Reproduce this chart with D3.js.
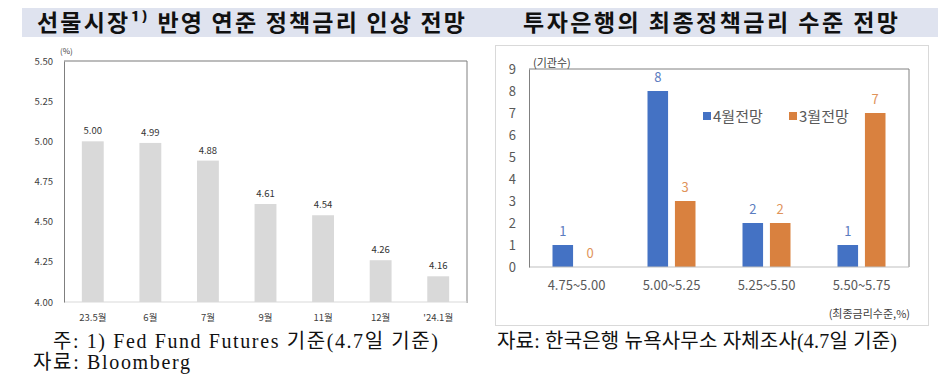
<!DOCTYPE html>
<html><head><meta charset="utf-8">
<script src="https://cdn.jsdelivr.net/npm/d3@7"></script>
<style>
body{margin:0;background:#fff;}
svg{display:block;}
</style></head>
<body>
<svg id="c" width="950" height="389"></svg>
<script>
// ---- data ----
const leftTitle = "선물시장¹⁾ 반영 연준 정책금리 인상 전망";
const rightTitle = "투자은행의 최종정책금리 수준 전망";
const leftCats = ["23.5월","6월","7월","9월","11월","12월","'24.1월"];
const leftVals = [5.00,4.99,4.88,4.61,4.54,4.26,4.16];
const leftTicks = [4.00,4.25,4.50,4.75,5.00,5.25,5.50];
const rightCats = ["4.75~5.00","5.00~5.25","5.25~5.50","5.50~5.75"];
const seriesNames = ["4월전망","3월전망"];
const aprVals = [1,8,2,1];
const marVals = [0,3,2,7];
const rightTicks = [0,1,2,3,4,5,6,7,8,9];
const note1 = "주: 1) Fed Fund Futures 기준(4.7일 기준)";
const note2 = "자료: Bloomberg";
const note3 = "자료: 한국은행 뉴욕사무소 자체조사(4.7일 기준)";

const svg = d3.select("#c");
const sans = "'Malgun Gothic','Noto Sans CJK KR','Noto Sans',sans-serif";
const serif = "'Liberation Serif','Noto Sans CJK KR',serif";
const blue = "#4472C4", orange = "#D9813F";

// title band
svg.append("rect").attr("x",22).attr("y",8).attr("width",916).attr("height",29).attr("fill","#dfe3ef");
svg.append("text").attr("x",37).attr("y",31)
  .attr("font-family",sans).attr("font-weight","bold").attr("font-size",23).attr("fill","#111")
  .attr("textLength",428).attr("lengthAdjust","spacing")
  .text(leftTitle);
svg.append("text").attr("x",523).attr("y",31)
  .attr("font-family",sans).attr("font-weight","bold").attr("font-size",23).attr("fill","#111")
  .attr("textLength",375).attr("lengthAdjust","spacing")
  .text(rightTitle);

// ---- left chart ----
const L = {x0:64, x1:467, y0:61, y1:302};
const xl = d3.scaleBand().domain(leftCats).range([L.x0,L.x1]).paddingInner(0.62).paddingOuter(0.31);
const yl = d3.scaleLinear().domain([4.0,5.5]).range([L.y1,L.y0]);
const gL = svg.append("g");
gL.selectAll("rect.bar").data(leftVals).join("rect")
  .attr("x",(d,i)=>xl(leftCats[i])).attr("width",xl.bandwidth())
  .attr("y",d=>yl(d)).attr("height",d=>yl(4.0)-yl(d)).attr("fill","#d9d9d9");
gL.selectAll("text.v").data(leftVals).join("text")
  .attr("x",(d,i)=>xl(leftCats[i])+xl.bandwidth()/2).attr("y",d=>yl(d)-7)
  .attr("text-anchor","middle").attr("font-family",sans).attr("font-size",9.5).attr("fill","#333")
  .text(d=>d3.format(".2f")(d));
// frame
gL.append("line").attr("x1",L.x0).attr("x2",L.x1).attr("y1",L.y0).attr("y2",L.y0).attr("stroke","#a6a6a6").attr("stroke-width",1.5);
gL.append("line").attr("x1",L.x1).attr("x2",L.x1).attr("y1",L.y0).attr("y2",L.y1+1).attr("stroke","#808080");
gL.append("line").attr("x1",L.x0).attr("x2",L.x1).attr("y1",L.y1).attr("y2",L.y1).attr("stroke","#d9d9d9");
const axL = d3.axisLeft(yl).tickValues(leftTicks).tickFormat(d3.format(".2f")).tickSize(0).tickPadding(11);
const gax = gL.append("g").attr("transform",`translate(${L.x0},0)`).call(axL);
gax.select(".domain").attr("stroke","#7f7f7f");
gax.selectAll("text").attr("font-family",sans).attr("font-size",9.5).attr("fill","#404040");
const axLb = d3.axisBottom(xl).tickSize(0).tickPadding(12);
const gbx = gL.append("g").attr("transform",`translate(0,${L.y1})`).call(axLb);
gbx.select(".domain").remove();
gbx.selectAll("text").attr("font-family",sans).attr("font-size",9.5).attr("fill","#404040");
gL.append("text").attr("x",60).attr("y",54).attr("font-family",sans).attr("font-size",8).attr("fill","#404040").text("(%)");

// ---- right chart ----
svg.append("rect").attr("x",495.5).attr("y",45.5).attr("width",433).attr("height",280).attr("fill","none").attr("stroke","#d9d9d9");
const R = {x0:529, x1:909, y0:69, y1:267};
const xr = d3.scaleBand().domain(rightCats).range([R.x0,R.x1]);
const xs = d3.scaleBand().domain(seriesNames).range([-24,24]).paddingInner(0.25);
const yr = d3.scaleLinear().domain([0,9]).range([R.y1,R.y0]);
const gR = svg.append("g");
const series = [aprVals, marVals];
const cols = [blue, orange];
const labCols = ["#5a7cc0","#e0935a"];
series.forEach((vals,si)=>{
  gR.selectAll("rect.s"+si).data(vals).join("rect")
    .attr("x",(d,i)=>xr(rightCats[i])+xr.bandwidth()/2+xs(seriesNames[si]))
    .attr("width",xs.bandwidth()).attr("y",d=>yr(d)).attr("height",d=>yr(0)-yr(d)).attr("fill",cols[si]);
  gR.selectAll("text.s"+si).data(vals).join("text")
    .attr("x",(d,i)=>xr(rightCats[i])+xr.bandwidth()/2+xs(seriesNames[si])+xs.bandwidth()/2)
    .attr("y",d=>yr(d)-9).attr("text-anchor","middle").attr("font-family",sans).attr("font-size",13)
    .attr("fill",labCols[si]).text(d=>d);
});
gR.append("line").attr("x1",R.x0).attr("x2",R.x1).attr("y1",R.y0).attr("y2",R.y0).attr("stroke","#808080");
gR.append("line").attr("x1",R.x1).attr("x2",R.x1).attr("y1",R.y0).attr("y2",R.y1).attr("stroke","#808080");
gR.append("line").attr("x1",R.x0).attr("x2",R.x1).attr("y1",R.y1).attr("y2",R.y1).attr("stroke","#bfbfbf");
const axR = d3.axisLeft(yr).tickValues(rightTicks).tickSize(0).tickPadding(13);
const gay = gR.append("g").attr("transform",`translate(${R.x0},0)`).call(axR);
gay.select(".domain").attr("stroke","#808080");
gay.selectAll("text").attr("font-family",sans).attr("font-size",13).attr("fill","#595959");
const axRb = d3.axisBottom(xr).tickSize(0).tickPadding(14);
const gbr = gR.append("g").attr("transform",`translate(0,${R.y1})`).call(axRb);
gbr.select(".domain").remove();
gbr.selectAll("text").attr("font-family",sans).attr("font-size",13).attr("fill","#595959");
gR.append("text").attr("x",533).attr("y",67).attr("font-family",sans).attr("font-size",11).attr("fill","#404040").text("(기관수)");
gR.append("text").attr("x",910).attr("y",318).attr("text-anchor","end").attr("font-family",sans).attr("font-size",11).attr("fill","#404040").text("(최종금리수준,%)");
// legend
const legX = [703, 789];
seriesNames.forEach((n,i)=>{
  gR.append("rect").attr("x",legX[i]).attr("y",112).attr("width",8).attr("height",8).attr("fill",cols[i]);
  gR.append("text").attr("x",legX[i]+10).attr("y",122).attr("font-family",sans).attr("font-size",15).attr("fill","#595959").text(n);
});

// footers
svg.append("text").attr("x",53).attr("y",348).attr("font-family",serif).attr("font-size",20).attr("fill","#111")
  .attr("textLength",385).attr("lengthAdjust","spacing").text(note1);
svg.append("text").attr("x",33).attr("y",369).attr("font-family",serif).attr("font-size",20).attr("fill","#111")
  .attr("textLength",157).attr("lengthAdjust","spacing").text(note2);
svg.append("text").attr("x",497).attr("y",348).attr("font-family",serif).attr("font-size",20).attr("fill","#111")
  .attr("textLength",400).attr("lengthAdjust","spacing").text(note3);
</script>
</body></html>
